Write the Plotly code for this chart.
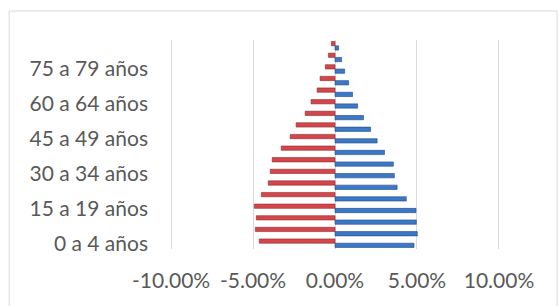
import plotly.graph_objects as go

# Data (percent of total population)
categories = ["0 a 4 años", "5 a 9 años", "10 a 14 años", "15 a 19 años", "20 a 24 años",
              "25 a 29 años", "30 a 34 años", "35 a 39 años", "40 a 44 años", "45 a 49 años",
              "50 a 54 años", "55 a 59 años", "60 a 64 años", "65 a 69 años", "70 a 74 años",
              "75 a 79 años", "80 a 84 años", "85 años y más"]
red_left = [4.62, 4.86, 4.80, 4.92, 4.49, 4.07, 3.95, 3.83, 3.28, 2.73,
            2.37, 1.82, 1.46, 1.09, 0.91, 0.59, 0.40, 0.22]
blue_right = [4.82, 5.02, 4.96, 4.94, 4.35, 3.79, 3.62, 3.56, 3.02, 2.57,
              2.17, 1.74, 1.38, 1.07, 0.83, 0.59, 0.40, 0.22]
shown_labels = ["0 a 4 años", "15 a 19 años", "30 a 34 años", "45 a 49 años",
                "60 a 64 años", "75 a 79 años"]
x_tick_values = [-0.10, -0.05, 0.0, 0.05, 0.10]
x_tick_labels = ["-10.00%", "-5.00%", "0.00%", "5.00%", "10.00%"]

W, H = 558, 306
L, R, T, B = 168.65, 56.65, 40, 56.7
pw, ph = W - L - R, H - T - B

def px_to_paper_x(px):
    return (px - L) / pw

def px_to_paper_y(py):
    return (H - B - py) / ph

fig = go.Figure()
fig.add_trace(go.Bar(
    y=categories, x=[v / 100 for v in blue_right], orientation="h",
    name="Mujeres", marker=dict(color="#3B78C8", line=dict(color="#24497E", width=0.6)),
))
fig.add_trace(go.Bar(
    y=categories, x=[-v / 100 for v in red_left], orientation="h",
    name="Hombres", marker=dict(color="#D4464B", line=dict(color="#8E2A2C", width=0.6)),
))

font = dict(family="Lato", size=21, color="#595959")

fig.update_layout(
    width=W, height=H,
    margin=dict(l=L, r=R, t=T, b=B, pad=0, autoexpand=False),
    paper_bgcolor="white", plot_bgcolor="white",
    barmode="group", bargap=0.26, bargroupgap=0.0,
    showlegend=False,
    font=font,
    xaxis=dict(
        range=[-0.10125, 0.10125], tickvals=x_tick_values, ticktext=x_tick_labels,
        showgrid=True, gridcolor="#D9D9D9", gridwidth=1,
        zeroline=True, zerolinecolor="#D9D9D9", zerolinewidth=1,
        showline=False, ticks="", ticklabelstandoff=17, tickfont=font,
        automargin=False,
    ),
    yaxis=dict(
        type="category", categoryorder="array", categoryarray=categories,
        tickmode="array", tickvals=shown_labels, ticktext=shown_labels,
        showgrid=False, zeroline=False, showline=False, ticks="",
        ticklabelstandoff=20, tickfont=font, automargin=False,
    ),
    shapes=[dict(
        type="rect", xref="paper", yref="paper",
        x0=px_to_paper_x(8.5), x1=px_to_paper_x(557.5),
        y0=px_to_paper_y(320), y1=px_to_paper_y(11),
        line=dict(color="#D9D9D9", width=1), fillcolor="rgba(0,0,0,0)", layer="below",
    )],
)

fig.write_html("out.html", config={"displayModeBar": False},
               post_script="document.body.style.margin='0px';")
